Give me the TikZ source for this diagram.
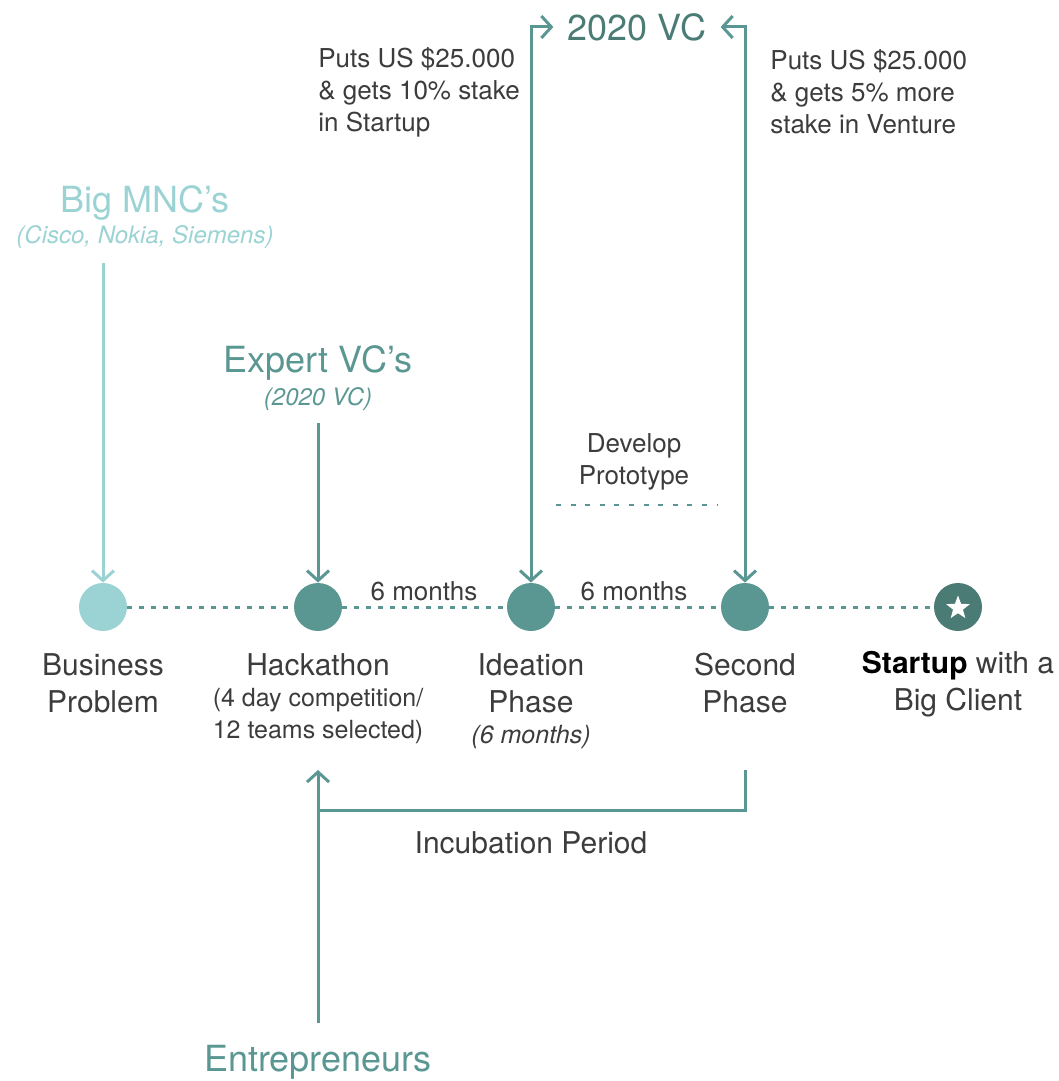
\documentclass[tikz,border=0pt]{standalone}
\usepackage{fontspec}
\setmainfont{TeX Gyre Heros}
\usetikzlibrary{arrows.meta, positioning, shapes.geometric}

\definecolor{tealpale}{HTML}{9BD3D4}
\definecolor{tealmid}{HTML}{5B9792}
\definecolor{tealdark}{HTML}{4B7B75}
\definecolor{textgrey}{HTML}{3C3C3C}

\begin{document}
\begin{tikzpicture}[x=0.5pt, y=-0.5pt,
    >={Straight Barb[length=5pt, width=11pt]},
    dot/.style={circle, fill=tealmid, minimum size=24pt, inner sep=0pt},
    link/.style={draw=tealmid, line width=1.5pt},
    timeline/.style={draw=tealmid, line width=1.5pt, dash pattern=on 2.5pt off 3.5pt},
    title/.style={font=\fontsize{18}{22}\selectfont, inner sep=2pt},
    steptext/.style={align=center, text=textgrey, font=\fontsize{15}{18.5}\selectfont, inner sep=0pt},
    small/.style={align=center, text=textgrey, font=\fontsize{12.5}{16}\selectfont, inner sep=0pt},
    note/.style={align=left, text=textgrey, font=\fontsize{13}{16}\selectfont, inner sep=0pt}]
  \useasboundingbox (0,0) rectangle (1059,1081);

  % Milestones
  \node[dot, fill=tealpale] (problem) at (103,607) {};
  \node[dot] (hackathon) at (318,607) {};
  \node[dot] (ideation) at (531,607) {};
  \node[dot] (second) at (745,607) {};
  \node[dot, fill=tealdark] (client) at (958,607) {};
  \node[star, star points=5, star point ratio=2.4, fill=white, minimum size=12.5pt, inner sep=0pt] (clientstar) at (958,608) {};

  % Dotted timeline
  \draw[timeline] (problem) -- (hackathon);
  \draw[timeline] (hackathon) -- (ideation);
  \draw[timeline] (ideation) -- (second);
  \draw[timeline] (second) -- (client);

  \node[note] (monthsone) at (424,591) {6 months};
  \node[note] (monthstwo) at (634,591) {6 months};

  % Captions under the milestones
  \node[steptext] (problemtxt) at (103,683) {Business\\Problem};
  \node[steptext] (hacktxt) at (318,665) {Hackathon};
  \node[small] (hackinfo) at (318,716) {(4 day competition/\\12 teams selected)};
  \node[steptext] (ideationtxt) at (531,683) {Ideation\\Phase};
  \node[small, font=\fontsize{12.5}{16}\selectfont\itshape] (ideationinfo) at (531,737) {(6 months)};
  \node[steptext] (secondtxt) at (745,683) {Second\\Phase};
  \node[steptext] (clienttxt) at (958,684) {{\color{black}\bfseries Startup} with a\\Big Client};

  % Big MNC's
  \node[title, text=tealpale] (mnc) at (145,203) {Big MNC's};
  \node[small, text=tealpale, font=\fontsize{12}{16}\selectfont\itshape] (mncsub) at (145,237) {(Cisco, Nokia, Siemens)};
  \draw[link, draw=tealpale, ->] ([yshift=-7pt]mncsub.south -| problem) -- (problem);

  % Expert VC's
  \node[title, text=tealmid] (expert) at (318,363) {Expert VC's};
  \node[small, text=tealmid, font=\fontsize{12}{16}\selectfont\itshape] (expertsub) at (318,399) {(2020 VC)};
  \draw[link, ->, shorten <=6pt] (expertsub) -- (hackathon);

  % 2020 VC investments
  \node[title, text=tealdark, inner sep=7pt] (vc) at (637,27) {2020 VC};
  \draw[link, <->] (ideation) |- (vc);
  \draw[link, <->] (second) |- (vc);
  \node[note, anchor=west] (putsleft) at (318,92) {Puts US \$25.000\\\& gets 10\% stake\\in Startup};
  \node[note, anchor=west] (putsright) at (770,92) {Puts US \$25.000\\\& gets 5\% more\\stake in Venture};

  % Prototype
  \node[note, align=center] (proto) at (634,462) {Develop\\Prototype};
  \draw[tealmid, line width=1pt, dash pattern=on 2.5pt off 4.8pt] (556,505) -- (718,505);

  % Incubation
  \node[title, text=tealmid] (entre) at (318,1062) {Entrepreneurs};
  \coordinate (incstart) at (318,770);
  \coordinate (incbase) at (318,810);
  \coordinate (incend) at (745,770);
  \draw[link, ->, shorten <=9pt] (entre) -- (incstart);
  \draw[link] (incend) |- (incbase);
  \node[steptext] (incubation) at (531,843) {Incubation Period};
\end{tikzpicture}
\end{document}
